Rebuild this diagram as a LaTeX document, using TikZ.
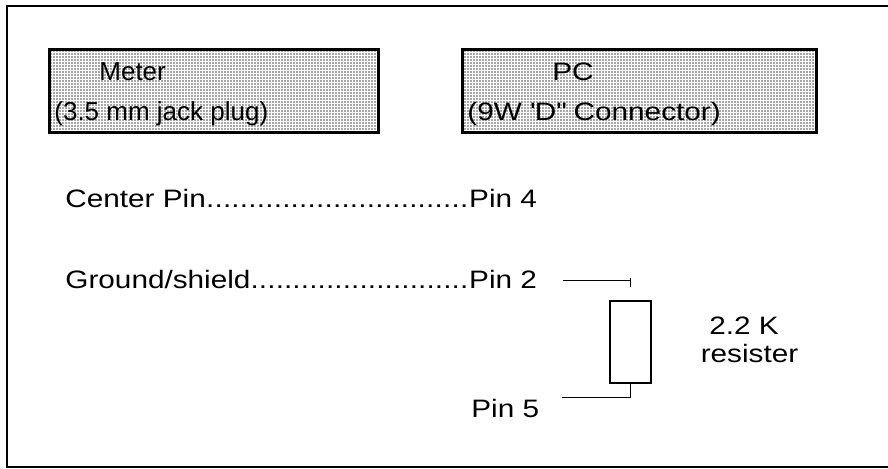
\documentclass[tikz,border=0pt]{standalone}
\usepackage{fontspec}
\setmainfont{Liberation Sans}
\newfontfamily\widefont[FakeStretch=1.18]{Liberation Sans}
\usetikzlibrary{positioning, calc, patterns.meta}
\newcommand{\Leaderdots}{\xleaders\hbox{.}\hfill}
\tikzset{
    connbox/.style={draw, line width=1.4pt, pattern={Dots[distance=1.5pt, radius=0.42pt]}, pattern color=black!70, minimum height=41.5pt, inner sep=0pt},
    boxtext/.style={font=\fontsize{13}{15}\selectfont, inner sep=0pt, anchor=base west},
    widetext/.style={font=\widefont\fontsize{12.6}{15}\selectfont, inner sep=0pt, anchor=base west},
    resistor/.style={draw, line width=1.2pt, minimum width=20.3pt, minimum height=40.8pt, inner sep=0pt},
    wire/.style={line width=0.5pt},
}
\begin{document}
\begin{tikzpicture}[x=0.5pt, y=-0.5pt]
    \useasboundingbox (0,0) rectangle (888,468);
    \draw[line width=1.2pt] (900,6) -- (7,6) -- (7,467) -- (900,467);

    \node[connbox, minimum width=164.5pt] (meter) at (214,91) {};
    \node[connbox, minimum width=177pt] (pc) at (639.5,91) {};
    \node[boxtext] (metertitle) at (99,80) {Meter};
    \node[boxtext] (meterplug) at (54,120) {(3.5 mm jack plug)};
    \node[widetext] (pctitle) at (552,80) {PC};
    \node[widetext] (pcplug) at (467,120) {(9W \textquotesingle D\textquotedbl{} Connector)};

    \node[widetext] (center) at (65,207) {\makebox[201.5pt][l]{Center Pin\Leaderdots}};
    \node[widetext, base right=0pt of center] (pin4) {Pin 4};
    \node[widetext] (ground) at (65,288) {\makebox[201.5pt][l]{Ground/shield\Leaderdots}};
    \node[widetext, base right=0pt of ground] (pin2) {Pin 2};
    \node[widetext] (pin5) at (471,417) {Pin 5};

    \node[resistor] (res) at (630.5,342) {};
    \node[widetext, anchor=base] (resval) at (744,334) {2.2 K};
    \node[widetext, anchor=base] (restype) at (749.5,362) {resister};

    \coordinate (lead2) at (563,280);
    \coordinate (lead5) at (562,397);
    \draw[wire] (lead2) -- (lead2 -| res);
    \draw[wire] ($(lead2 -| res)+(0,-2)$) -- ++(0,9);
    \draw[wire] (lead5) -| (res.south);
\end{tikzpicture}
\end{document}
